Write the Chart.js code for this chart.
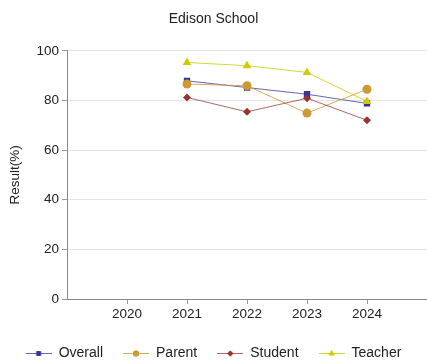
<!DOCTYPE html>
<html>
<head>
<meta charset="utf-8">
<script src="https://cdn.jsdelivr.net/npm/chart.js@4"></script>
<style>
  body { margin: 0; background: #fff; }
  #wrap { width: 427px; height: 362px; }
</style>
</head>
<body>
<div id="wrap"><canvas id="edisonChart" width="427" height="362"></canvas></div>
<script>
const anos = [2020, 2021, 2022, 2023, 2024];
const overall = [null, 87.9, 85.2, 82.5, 78.8];
const parent = [null, 86.6, 85.9, 74.9, 84.5];
const student = [null, 81.2, 75.4, 80.9, 72.0];
const teacher = [null, 95.3, 94.0, 91.3, 79.6];
const yTicks = [0, 20, 40, 60, 80, 100];

const fonte = 'Arial, "Liberation Sans", sans-serif';

function pontos(valores) {
    return anos.map((ano, i) => ({ x: ano, y: valores[i] }));
}

// canvas pequeno com linha + marcador para a legenda
function iconeLegenda(cor, corLinha, estilo, raio) {
    const c = document.createElement('canvas');
    c.width = 26;
    c.height = 12;
    const ctx = c.getContext('2d');
    ctx.strokeStyle = corLinha;
    ctx.lineWidth = 1;
    ctx.beginPath();
    ctx.moveTo(0, 6.5);
    ctx.lineTo(26, 6.5);
    ctx.stroke();
    ctx.fillStyle = cor;
    Chart.helpers.drawPoint(ctx, { pointStyle: estilo, radius: raio, rotation: 0, borderWidth: 0 }, 13, 6.5);
    ctx.fill();
    return c;
}

const series = [
    { label: 'Overall', data: overall, cor: '#333399', linha: 'rgba(51,51,153,0.75)', estilo: 'rect', raio: 4.5, raioLeg: 3.2, ordem: 3 },
    { label: 'Parent', data: parent, cor: '#cc9933', linha: 'rgba(204,153,51,0.8)', estilo: 'circle', raio: 4.5, raioLeg: 3, ordem: 2 },
    { label: 'Student', data: student, cor: '#993333', linha: 'rgba(153,51,51,0.75)', estilo: 'rectRot', raio: 4, raioLeg: 3, ordem: 1 },
    { label: 'Teacher', data: teacher, cor: '#cccc00', linha: 'rgba(204,204,0,0.8)', estilo: 'triangle', raio: 5, raioLeg: 3.5, ordem: 0 }
];

const ctx = document.getElementById('edisonChart').getContext('2d');
new Chart(ctx, {
    type: 'line',
    data: {
        datasets: series.map(s => ({
            label: s.label,
            data: pontos(s.data),
            borderColor: s.linha,
            backgroundColor: s.cor,
            borderWidth: 1,
            pointStyle: s.estilo,
            pointRadius: s.raio,
            pointBorderWidth: 0,
            order: s.ordem,
            spanGaps: false
        }))
    },
    options: {
        responsive: false,
        animation: false,
        layout: { autoPadding: false, padding: { left: 0, right: 0, top: 0, bottom: -8 } },
        plugins: {
            tooltip: { enabled: false },
            title: {
                display: true,
                text: 'Edison School',
                color: '#222',
                font: { family: fonte, size: 14, weight: 'normal' },
                padding: { top: 11, bottom: 23 }
            },
            legend: {
                position: 'bottom',
                labels: {
                    usePointStyle: true,
                    pointStyleWidth: 26,
                    padding: 20,
                    color: '#222',
                    font: { family: fonte, size: 14 },
                    sort: (a, b) => a.datasetIndex - b.datasetIndex,
                    generateLabels: chart => {
                        const itens = Chart.defaults.plugins.legend.labels.generateLabels(chart);
                        itens.forEach(item => {
                            const s = series[item.datasetIndex];
                            item.pointStyle = iconeLegenda(s.cor, s.linha, s.estilo, s.raioLeg);
                        });
                        return itens;
                    }
                }
            }
        },
        scales: {
            x: {
                type: 'linear',
                min: anos[0] - 1,
                max: anos[anos.length - 1] + 1,
                afterBuildTicks: scale => {
                    scale.ticks = anos.map(a => ({ value: a }));
                },
                ticks: {
                    color: '#222',
                    font: { family: fonte, size: 13.5 },
                    padding: 2,
                    maxRotation: 0,
                    callback: v => String(v)
                },
                grid: { drawOnChartArea: false, tickLength: 5, tickColor: '#999' },
                border: { color: '#888', width: 1 },
                afterFit: scale => {
                    scale.height = 27;
                    scale.paddingLeft = 0;
                    scale.paddingRight = 0;
                }
            },
            y: {
                min: 0,
                max: 100,
                afterBuildTicks: scale => {
                    scale.ticks = yTicks.map(v => ({ value: v }));
                },
                ticks: {
                    color: '#222',
                    font: { family: fonte, size: 13.5 },
                    padding: 3
                },
                grid: { color: '#e4e4e4', tickLength: 5, tickColor: '#999' },
                border: { color: '#888', width: 1 },
                title: {
                    display: true,
                    text: 'Result(%)',
                    color: '#222',
                    font: { family: fonte, size: 13.5 },
                    padding: { top: 7, bottom: 0 }
                },
                afterFit: scale => { scale.width = 67; }
            }
        }
    }
});
</script>
</body>
</html>
